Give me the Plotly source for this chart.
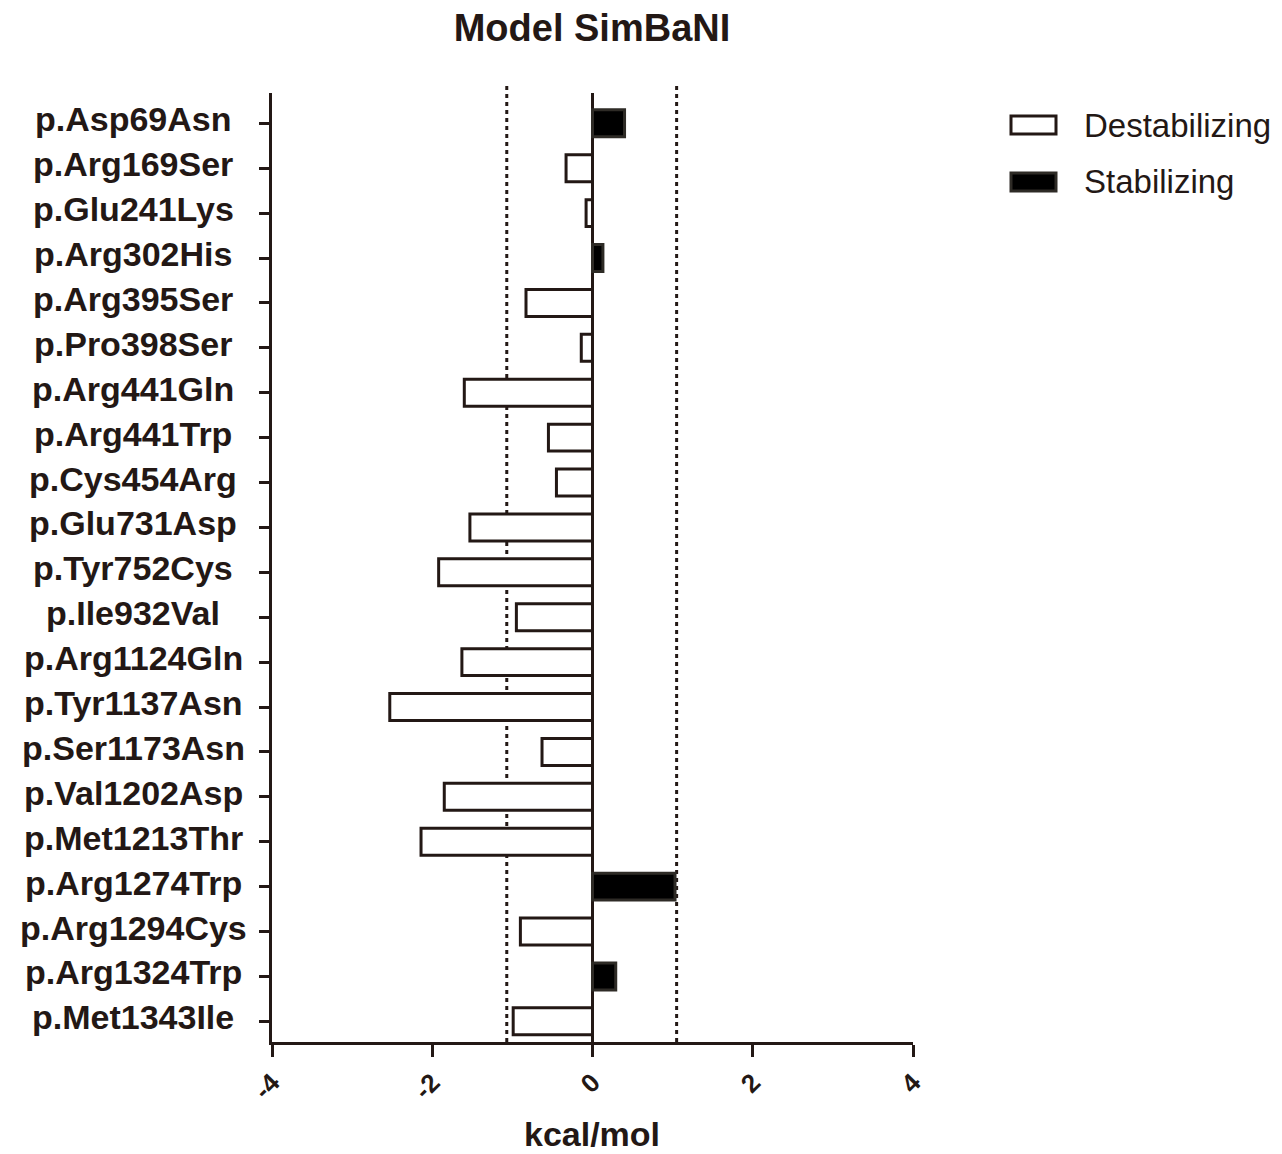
import plotly.graph_objects as go

# ---- data ----
mutations = ["p.Asp69Asn", "p.Arg169Ser", "p.Glu241Lys", "p.Arg302His", "p.Arg395Ser",
             "p.Pro398Ser", "p.Arg441Gln", "p.Arg441Trp", "p.Cys454Arg", "p.Glu731Asp",
             "p.Tyr752Cys", "p.Ile932Val", "p.Arg1124Gln", "p.Tyr1137Asn", "p.Ser1173Asn",
             "p.Val1202Asp", "p.Met1213Thr", "p.Arg1274Trp", "p.Arg1294Cys", "p.Arg1324Trp",
             "p.Met1343Ile"]
ddg = [0.40, -0.33, -0.08, 0.13, -0.83,
       -0.14, -1.60, -0.55, -0.45, -1.53,
       -1.92, -0.95, -1.63, -2.53, -0.63,
       -1.85, -2.14, 1.03, -0.90, 0.29,
       -0.99]
thresholds = [-1.07, 1.05]
x_ticks = [-4, -2, 0, 2, 4]
x_tick_labels = ["-4", "-2", "0", "2", "4"]
series_names = ["Destabilizing", "Stabilizing"]
title_text = "Model SimBaNI"
x_title = "kcal/mol"

INK = "#231815"
FONT = "Liberation Sans, Arial, sans-serif"

destab = [v if v < 0 else None for v in ddg]
stab = [v if v >= 0 else None for v in ddg]

fig = go.Figure()
fig.add_trace(go.Bar(
    y=mutations, x=destab, orientation="h", width=0.6, name=series_names[0],
    marker=dict(color="white", line=dict(color=INK, width=3)),
))
fig.add_trace(go.Bar(
    y=mutations, x=stab, orientation="h", width=0.6, name=series_names[1],
    marker=dict(color="black", line=dict(color="#2e2b26", width=3)),
))

# page offset (body margin) compensation
OFF = 8
W, H = 1282 - OFF, 1154 - OFF
L, R = 272 - OFF, 913 - OFF
T, B = 93 - OFF, 1042 - OFF
PW, PH = R - L, B - T


def px_x(px):
    return (px - OFF - L) / PW


def px_y(py):
    return (B - (py - OFF)) / PH


# threshold dotted lines
for t in thresholds:
    fig.add_shape(type="line", xref="x", yref="paper", x0=t, x1=t, y0=0, y1=px_y(84),
                  line=dict(color=INK, width=3, dash="4px,4px"), layer="below")

# y-axis category labels, centred horizontally like the reference
for m in mutations:
    fig.add_annotation(x=px_x(133), xref="paper", y=m, yref="y", text=m,
                       showarrow=False, xanchor="center", yanchor="middle", yshift=4,
                       font=dict(family=FONT, size=34, color=INK, weight="bold"))

# x-axis title
fig.add_annotation(x=px_x(592), xref="paper", y=px_y(1134), yref="paper", text=x_title,
                   showarrow=False, xanchor="center", yanchor="middle",
                   font=dict(family=FONT, size=34, color=INK, weight="bold"))

# manual legend
leg = [(125, "white", INK), (182, "black", "#2e2b26")]
for (cy, fill, lc), name in zip(leg, series_names):
    fig.add_shape(type="rect", xref="paper", yref="paper",
                  x0=px_x(1011), x1=px_x(1056),
                  y0=px_y(cy + 9), y1=px_y(cy - 9),
                  fillcolor=fill, line=dict(color=lc, width=3))
    fig.add_annotation(x=px_x(1082), xref="paper", y=px_y(cy), yref="paper",
                       text=name, showarrow=False, xanchor="left", yanchor="middle",
                       font=dict(family=FONT, size=33, color=INK))

fig.update_layout(
    width=W, height=H,
    margin=dict(l=L, r=W - R, t=T, b=H - B, autoexpand=False),
    paper_bgcolor="white", plot_bgcolor="white",
    barmode="overlay", showlegend=False,
    title=dict(text=title_text, x=px_x(592), xref="paper", xanchor="center",
               y=1, yref="container", yanchor="top", pad=dict(t=6),
               font=dict(family=FONT, size=38, color=INK, weight="bold")),
    font=dict(family=FONT, color=INK),
)
fig.update_xaxes(
    range=[-4, 4], tickvals=x_ticks, ticktext=x_tick_labels, tickangle=-45,
    automargin=False,
    showgrid=False, zeroline=True, zerolinecolor=INK, zerolinewidth=3,
    showline=True, linecolor=INK, linewidth=3,
    ticks="outside", ticklen=12, tickwidth=3, tickcolor=INK,
    tickfont=dict(family=FONT, size=26, color=INK, weight="bold"),
)
fig.update_yaxes(
    type="category", categoryorder="array", categoryarray=mutations,
    range=[20.46, -0.675], automargin=False,
    showgrid=False, zeroline=False,
    showline=True, linecolor=INK, linewidth=3,
    ticks="outside", ticklen=10, tickwidth=3, tickcolor=INK,
    showticklabels=False,
)

fig.write_html("out.html")
